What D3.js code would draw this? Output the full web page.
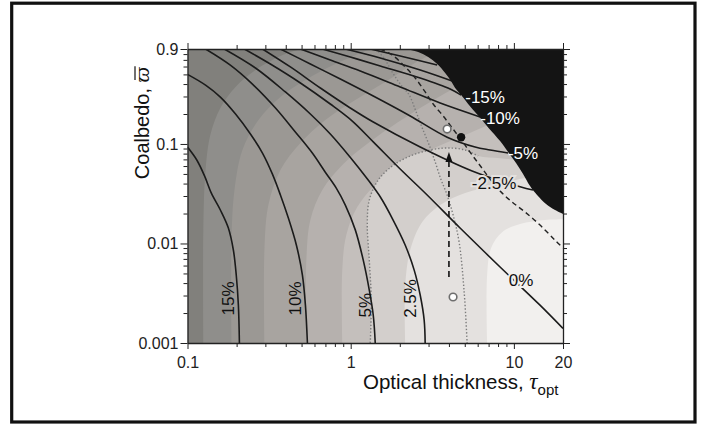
<!DOCTYPE html>
<html>
<head>
<meta charset="utf-8">
<script src="https://cdn.jsdelivr.net/npm/d3@7"></script>
<style>
  html, body { margin: 0; padding: 0; background: #fff; }
  svg { display: block; }
  text { font-family: "Liberation Sans", Arial, Helvetica, sans-serif; }
</style>
</head>
<body>
<div id="chart"></div>
<script>
// Osie
const xTicks = [0.1, 1, 10, 20];
const xTickLabels = ["0.1", "1", "10", "20"];
const xMinorTicks = [0.2, 0.3, 0.4, 0.5, 0.6, 0.7, 0.8, 0.9, 2, 3, 4, 5, 6, 7, 8, 9];
const yTicks = [0.001, 0.01, 0.1, 0.9];
const yTickLabels = ["0.001", "0.01", "0.1", "0.9"];
const yMinorTicks = [0.002, 0.003, 0.004, 0.005, 0.006, 0.007, 0.008, 0.009,
  0.02, 0.03, 0.04, 0.05, 0.06, 0.07, 0.08, 0.09, 0.2, 0.3, 0.4, 0.5, 0.6, 0.7, 0.8];

// Izolinie [tau, coalbedo]
const c15 = [[0.1, 0.093], [0.114, 0.069], [0.127, 0.048], [0.140, 0.032], [0.159, 0.0217],
  [0.178, 0.0143], [0.191, 0.0086], [0.199, 0.0048], [0.205, 0.0024], [0.208, 0.001]];
const c10 = [[0.1, 0.5], [0.129, 0.39], [0.159, 0.296], [0.197, 0.20], [0.243, 0.126], [0.288, 0.081],
  [0.331, 0.050], [0.371, 0.0307], [0.415, 0.018], [0.465, 0.0096], [0.506, 0.0048], [0.528, 0.0024], [0.543, 0.001]];
const c5 = [[0.129, 0.9], [0.183, 0.62], [0.25, 0.40], [0.346, 0.23], [0.458, 0.132], [0.582, 0.081],
  [0.699, 0.052], [0.816, 0.036], [0.927, 0.0243], [1.067, 0.0137], [1.194, 0.0068], [1.30, 0.0034],
  [1.375, 0.0019], [1.414, 0.001]];
const c2_5 = [[0.168, 0.9], [0.261, 0.58], [0.398, 0.333], [0.566, 0.20], [0.75, 0.126], [0.99, 0.074],
  [1.28, 0.0434], [1.52, 0.0293], [1.82, 0.0172], [2.16, 0.0096], [2.45, 0.0054], [2.67, 0.003],
  [2.82, 0.0017], [2.86, 0.001]];
const c0 = [[0.223, 0.9], [0.322, 0.636], [0.492, 0.41], [0.75, 0.252], [1.023, 0.170], [1.375, 0.105],
  [2.01, 0.056], [2.90, 0.0314], [4.68, 0.0143], [8.23, 0.0058], [14.46, 0.0024], [20, 0.0014]];
const cm2_5 = [[0.288, 0.9], [0.427, 0.594], [0.652, 0.365], [0.994, 0.23], [1.375, 0.166],
  [2.667, 0.0932], [5.548, 0.0535], [9.479, 0.0396], [13.1, 0.0344]];
const cm5 = [[0.371, 0.9], [0.566, 0.636], [0.864, 0.449], [1.375, 0.303], [2.316, 0.191],
  [3.901, 0.117], [5.788, 0.0932], [7.15, 0.087], [9.216, 0.0811]];
const cm10 = [[0.492, 0.9], [0.75, 0.697], [1.145, 0.541], [2.012, 0.374], [3.535, 0.258], [6.212, 0.187]];
const cm15 = [[0.67, 0.9], [0.994, 0.748], [1.518, 0.608], [2.667, 0.46], [4.069, 0.357], [4.753, 0.31]];
const cm20 = [[0.927, 0.9], [1.518, 0.731], [2.667, 0.553], [4.185, 0.429]];
const cm25 = [[1.318, 0.9], [2.012, 0.765], [3.388, 0.622]];

// Linia przerywana i kropkowane
const dashedCurve = [[1.518, 0.9], [1.797, 0.783], [2.128, 0.608], [2.485, 0.46], [2.861, 0.333],
  [3.203, 0.252], [3.688, 0.191], [4.185, 0.145], [4.82, 0.107], [5.548, 0.0774], [6.301, 0.0587],
  [7.15, 0.0444], [8.233, 0.0337], [9.75, 0.0261], [11.71, 0.0207], [14.46, 0.0153], [17.87, 0.0108], [20, 0.009]];
const dottedA = [[1.318, 0.001], [1.337, 0.0027], [1.30, 0.0068], [1.264, 0.0153], [1.30, 0.0273],
  [1.475, 0.0434], [1.797, 0.060], [2.316, 0.0757], [3.07, 0.087], [3.901, 0.0911], [5.026, 0.087], [6.04, 0.0757]];
const dottedB = [[1.435, 0.9], [1.629, 0.697], [1.797, 0.528], [2.012, 0.40], [2.284, 0.31], [2.52, 0.209],
  [2.744, 0.145], [3.027, 0.0975], [3.294, 0.0659], [3.585, 0.0434], [3.901, 0.0307], [4.244, 0.0193],
  [4.619, 0.0103], [4.956, 0.0033], [5.17, 0.001]];

// Granice pasm cieniowania (od dołu do góry)
const band1 = [[0.125, 0.001], [0.125, 0.0137], [0.129, 0.0547], [0.138, 0.123], [0.159, 0.23],
  [0.197, 0.374], [0.261, 0.553], [0.371, 0.765], [0.492, 0.9]];
const band2 = [[0.186, 0.001], [0.186, 0.0108], [0.194, 0.0344], [0.217, 0.087], [0.272, 0.174],
  [0.371, 0.296], [0.528, 0.439], [0.805, 0.636], [1.318, 0.9]];
const band3 = [[0.296, 0.001], [0.296, 0.0086], [0.313, 0.0243], [0.371, 0.0547], [0.492, 0.102],
  [0.699, 0.174], [1.067, 0.276], [1.629, 0.419], [2.667, 0.697], [3.793, 0.9]];
const band4 = [[0.535, 0.001], [0.535, 0.0068], [0.566, 0.0172], [0.67, 0.0344], [0.888, 0.0614],
  [1.282, 0.102], [1.956, 0.166], [3.07, 0.264], [4.684, 0.391], [7.15, 0.553]];
const band5 = [[0.888, 0.001], [0.888, 0.0054], [0.94, 0.0122], [1.097, 0.0232], [1.414, 0.0387],
  [2.012, 0.0587], [3.07, 0.087], [5.026, 0.123], [8.233, 0.174]];
const band6 = [[1.318, 0.001], [1.337, 0.0027], [1.30, 0.0068], [1.264, 0.0153], [1.30, 0.0273],
  [1.475, 0.0434], [1.797, 0.060], [2.316, 0.0757], [3.07, 0.087], [3.901, 0.0911], [5.026, 0.087],
  [6.04, 0.0757], [8.233, 0.072], [10.91, 0.069]];
const band7 = [[2.158, 0.001], [2.158, 0.0038], [2.316, 0.0086], [2.744, 0.0164], [3.535, 0.0243],
  [5.026, 0.0321], [7.67, 0.0387], [11.71, 0.0455], [15.5, 0.0477]];
const band8 = [[6.855, 0.001], [6.855, 0.0048], [7.25, 0.009], [8.47, 0.013], [10.91, 0.0157],
  [15.5, 0.0172], [20, 0.0175]];

// Obszar czarny (granica)
const blackEdge = [[2.189, 0.9], [2.593, 0.84], [2.985, 0.748], [3.388, 0.636], [3.793, 0.517],
  [4.12, 0.429], [4.367, 0.365], [4.753, 0.31], [5.245, 0.252], [6.0, 0.195], [7.0, 0.145],
  [8.233, 0.107], [9.216, 0.083], [10.31, 0.0644], [11.38, 0.0499], [12.56, 0.0378], [13.87, 0.0307],
  [15.74, 0.0249], [17.87, 0.0217], [20, 0.0198]];

// Etykiety izolinii
const pctLabels = ["15%", "10%", "5%", "2.5%", "0%", "-2.5%", "-5%", "-10%", "-15%"];
const pctLabelAt = [[0.178, 0.0028], [0.458, 0.0028], [1.228, 0.0024], [2.316, 0.0028], [11.07, 0.0042],
  [7.56, 0.0405], [11.38, 0.0811], [8.23, 0.182], [6.66, 0.29]];

// Punkty i strzałka
const openPoints = [[3.9, 0.141], [4.24, 0.0029]];
const filledPoints = [[4.75, 0.117]];
const arrowFrom = [4.0, 0.0046];
const arrowTo = [4.0, 0.083];

// Wygląd
const baseColor = "#81807c";
const bandColors = ["#8f8e8b", "#9b9894", "#a8a4a0", "#b6b1ae", "#c4bfbc", "#d3cfcc", "#e4e1df", "#f2f0ee"];

const W = 702, H = 426;
const svg = d3.select("#chart").append("svg").attr("width", W).attr("height", H);
svg.append("rect").attr("width", W).attr("height", H).attr("fill", "#fff");

const x = d3.scaleLog().domain([0.1, 20]).range([187.5, 563]);
const y = d3.scaleLog().domain([0.001, 0.9]).range([343, 49]);

svg.append("defs").append("clipPath").attr("id", "plot-clip")
  .append("rect")
  .attr("x", x(0.1)).attr("y", y(0.9))
  .attr("width", x(20) - x(0.1)).attr("height", y(0.001) - y(0.9));

const plot = svg.append("g").attr("clip-path", "url(#plot-clip)");

const line = d3.line()
  .x(d => x(d[0]))
  .y(d => y(d[1]))
  .curve(d3.curveCatmullRom.alpha(0.5));

// Tło
plot.append("rect")
  .attr("x", x(0.1)).attr("y", y(0.9))
  .attr("width", x(20) - x(0.1)).attr("height", y(0.001) - y(0.9))
  .attr("fill", baseColor);

const bands = [band1, band2, band3, band4, band5, band6, band7, band8];
bands.forEach((pts, i) => {
  let p = line(pts);
  if (pts[pts.length - 1][0] < 20) p += `L${x(20)},${y(0.9)}`;
  p += `L${x(20)},${y(0.001)}Z`;
  plot.append("path").attr("d", p).attr("fill", bandColors[i]);
});

// Kropkowane
[dottedA, dottedB].forEach(pts => {
  plot.append("path").attr("d", line(pts))
    .attr("fill", "none").attr("stroke", "#7c7c7c")
    .attr("stroke-width", 1.4).attr("stroke-dasharray", "1.4,2");
});

// Izolinie
[c15, c10, c5, c2_5, c0, cm2_5, cm5, cm10, cm15, cm20, cm25].forEach(pts => {
  plot.append("path").attr("d", line(pts))
    .attr("fill", "none").attr("stroke", "#1b1b1b").attr("stroke-width", 1.6);
});

// Przerywana
plot.append("path").attr("d", line(dashedCurve))
  .attr("fill", "none").attr("stroke", "#222")
  .attr("stroke-width", 1.4).attr("stroke-dasharray", "5,3.5");

// Czarny obszar
plot.append("path")
  .attr("d", line(blackEdge) + `L${x(20)},${y(0.9)}Z`)
  .attr("fill", "#141414");

// Strzałka
const ax = x(arrowTo[0]), ay = y(arrowTo[1]);
plot.append("line")
  .attr("x1", x(arrowFrom[0])).attr("y1", y(arrowFrom[1]))
  .attr("x2", ax).attr("y2", ay + 8)
  .attr("stroke", "#111").attr("stroke-width", 1.6).attr("stroke-dasharray", "6,4");
plot.append("path")
  .attr("d", `M${ax},${ay}L${ax - 3.5},${ay + 10}L${ax + 3.5},${ay + 10}Z`)
  .attr("fill", "#111");

// Punkty
plot.selectAll(".open-pt").data(openPoints).join("circle")
  .attr("cx", d => x(d[0])).attr("cy", d => y(d[1])).attr("r", 3.8)
  .attr("fill", "#fff").attr("stroke", "#6e6e6e").attr("stroke-width", 1.6);
plot.selectAll(".filled-pt").data(filledPoints).join("circle")
  .attr("cx", d => x(d[0])).attr("cy", d => y(d[1])).attr("r", 4.2)
  .attr("fill", "#111");

// Etykiety
pctLabels.forEach((t, i) => {
  const px = x(pctLabelAt[i][0]), py = y(pctLabelAt[i][1]);
  const rotated = i < 4;
  const onBlack = i >= 6;
  const txt = svg.append("text")
    .attr("transform", `translate(${px},${py})` + (rotated ? " rotate(-90)" : ""))
    .attr("text-anchor", "middle")
    .attr("dominant-baseline", "central")
    .style("font-size", "17px")
    .attr("fill", onBlack ? "#fff" : "#111")
    .text(t);
  if (i === 4 || i === 5) {
    txt.attr("stroke", i === 4 ? "#f2f0ee" : "#e4e1df")
      .attr("stroke-width", 4).attr("paint-order", "stroke");
  }
});

// Osie
function styleAxis(g) {
  g.selectAll("line").attr("stroke", "#222").attr("stroke-width", 1);
  g.selectAll(".domain").attr("stroke", "#222").attr("stroke-width", 1.3);
  g.selectAll("text").style("font-size", "16px").attr("fill", "#222")
    .style("font-family", "'Liberation Sans', Arial, sans-serif");
}

svg.append("g").attr("transform", `translate(0,${y(0.001)})`)
  .call(d3.axisBottom(x).tickValues(xMinorTicks).tickFormat("").tickSize(4).tickSizeOuter(0))
  .call(g => g.select(".domain").remove()).call(styleAxis);
svg.append("g").attr("transform", `translate(0,${y(0.001)})`)
  .call(d3.axisBottom(x).tickValues(xTicks).tickFormat(d => xTickLabels[xTicks.indexOf(d)])
    .tickSize(6).tickPadding(8).tickSizeOuter(0))
  .call(styleAxis);

svg.append("g").attr("transform", `translate(0,${y(0.9)})`)
  .call(d3.axisTop(x).tickValues(xMinorTicks).tickFormat("").tickSize(4).tickSizeOuter(0))
  .call(g => g.select(".domain").remove()).call(styleAxis);
svg.append("g").attr("transform", `translate(0,${y(0.9)})`)
  .call(d3.axisTop(x).tickValues(xTicks).tickFormat("").tickSize(6).tickSizeOuter(0))
  .call(styleAxis);

svg.append("g").attr("transform", `translate(${x(0.1)},0)`)
  .call(d3.axisLeft(y).tickValues(yMinorTicks).tickFormat("").tickSize(4).tickSizeOuter(0))
  .call(g => g.select(".domain").remove()).call(styleAxis);
svg.append("g").attr("transform", `translate(${x(0.1)},0)`)
  .call(d3.axisLeft(y).tickValues(yTicks).tickFormat(d => yTickLabels[yTicks.indexOf(d)])
    .tickSize(7).tickPadding(2).tickSizeOuter(0))
  .call(styleAxis);

svg.append("g").attr("transform", `translate(${x(20)},0)`)
  .call(d3.axisRight(y).tickValues(yMinorTicks).tickFormat("").tickSize(4).tickSizeOuter(0))
  .call(g => g.select(".domain").remove()).call(styleAxis);
svg.append("g").attr("transform", `translate(${x(20)},0)`)
  .call(d3.axisRight(y).tickValues(yTicks).tickFormat("").tickSize(7).tickSizeOuter(0))
  .call(styleAxis);

// Tytuły osi
const xlab = svg.append("text").attr("x", 363).attr("y", 389)
  .style("font-size", "20.5px").attr("fill", "#111");
xlab.append("tspan").text("Optical thickness,\u00A0");
xlab.append("tspan")
  .style("font-family", "'Liberation Serif', 'DejaVu Serif', serif")
  .style("font-style", "italic").style("font-size", "23px").text("τ");
xlab.append("tspan").attr("dy", 6).style("font-size", "15px").text("opt");

const ylabG = svg.append("g").attr("transform", "translate(149,123) rotate(-90)");
const ylab = ylabG.append("text")
  .attr("text-anchor", "middle").style("font-size", "20px").attr("fill", "#111");
ylab.append("tspan").text("Coalbedo,\u00A0");
ylab.append("tspan")
  .style("font-family", "'Liberation Serif', 'DejaVu Serif', serif")
  .style("font-style", "italic").style("font-size", "22px").text("ϖ");
// kreska nad symbolem
const nChars = ylab.node().getNumberOfChars();
const ext = ylab.node().getExtentOfChar(nChars - 1);
ylabG.append("line")
  .attr("x1", ext.x + 2.5).attr("x2", ext.x + ext.width + 0.5)
  .attr("y1", -14).attr("y2", -14)
  .attr("stroke", "#111").attr("stroke-width", 1.2);

// Ramka
svg.append("rect")
  .attr("x", 11.7).attr("y", 3.2).attr("width", 683.3).attr("height", 418.8)
  .attr("fill", "none").attr("stroke", "#111").attr("stroke-width", 3.2);
</script>
</body>
</html>
